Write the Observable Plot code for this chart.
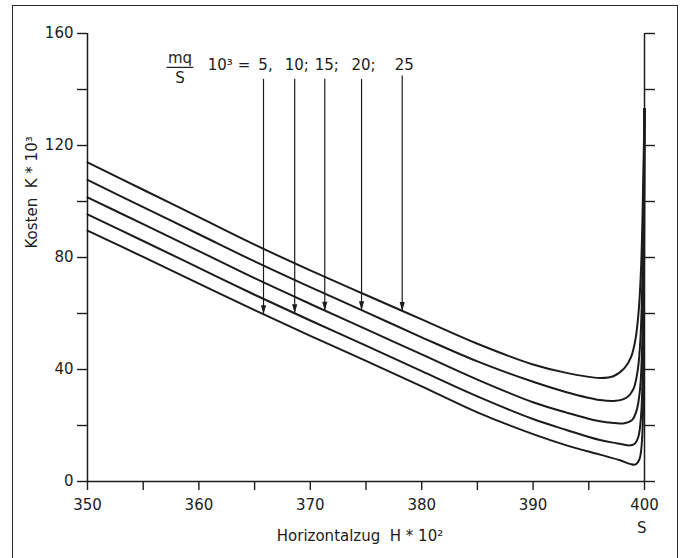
<!DOCTYPE html>
<html><head><meta charset="utf-8">
<script src="https://cdn.jsdelivr.net/npm/d3@7"></script>
<script src="https://cdn.jsdelivr.net/npm/@observablehq/plot@0.6"></script>
<style>
body{margin:0;background:#fff;}
#wrap{position:relative;width:686px;height:558px;overflow:hidden;font-family:"DejaVu Sans",sans-serif;}
#wrap svg{position:absolute;left:0;top:0;}
#frame{position:absolute;left:12px;top:5px;width:664px;height:600px;border:1.5px solid #2a2a2a;pointer-events:none;}
</style></head><body><div id="wrap"><div id="frame"></div></div>
<script>
// Horizontalzug H*10^2 (common grid) and Kosten K*10^3 per curve (mq/S*10^3)
const hGrid = [350, 355, 360, 365, 370, 375, 380, 385, 390, 393, 396];
const k25 = [114.0, 104.2, 94.4, 84.6, 75.4, 66.6, 57.9, 49.2, 41.8, 38.8, 37.0];
const k20 = [107.7, 98.0, 88.3, 78.6, 69.4, 60.5, 51.5, 42.9, 35.6, 31.9, 29.1];
const k15 = [101.5, 91.9, 82.3, 72.6, 63.4, 54.4, 45.4, 36.4, 28.3, 24.6, 21.5];
const k10 = [95.4, 85.9, 76.3, 66.7, 57.5, 48.5, 39.4, 30.4, 22.3, 18.4, 14.8];
const k5  = [89.6, 80.2, 70.7, 61.2, 52.0, 43.1, 34.0, 24.7, 16.9, 12.9, 9.6];
// steep part close to H = S
const tailH25 = [397.2, 398.2, 398.8, 399.2, 399.5, 399.7, 399.85, 400];
const tailK25 = [37.6, 40.5, 44.5, 51.0, 62.0, 77.0, 100.0, 133.0];
const tailH20 = [397.4, 398.4, 399.0, 399.4, 399.65, 399.82, 400];
const tailK20 = [28.8, 30.0, 33.0, 40.0, 52.0, 75.0, 133.0];
const tailH15 = [397.3, 398.2, 398.9, 399.3, 399.6, 399.8, 400];
const tailK15 = [20.9, 20.8, 22.0, 25.5, 33.0, 50.0, 133.0];
const tailH10 = [397.6, 398.6, 399.1, 399.45, 399.7, 399.88, 400];
const tailK10 = [13.6, 12.9, 13.4, 16.0, 24.0, 50.0, 133.0];
const tailH5  = [397.8, 398.7, 399.2, 399.55, 399.78, 399.92, 400];
const tailK5  = [7.6, 6.3, 6.1, 8.0, 15.0, 45.0, 133.0];

const seriesNames = [25, 20, 15, 10, 5];
// arrows marking each curve
const arrowH = [365.8, 368.6, 371.3, 374.6, 378.25];
const arrowTop = [143.8, 143.8, 143.8, 143.8, 145.0];
const arrowTip = [59.7, 60.1, 61.0, 61.2, 60.9];
const arrowLabels = ["5,", "10;", "15;", "20;", "25"];

const xTicks = d3.range(350, 401, 5);
const yTicks = d3.range(0, 161, 20);

const kArrs = [k25, k20, k15, k10, k5];
const tailHs = [tailH25, tailH20, tailH15, tailH10, tailH5];
const tailKs = [tailK25, tailK20, tailK15, tailK10, tailK5];
const rows = [];
seriesNames.forEach((s, j) => {
  hGrid.forEach((h, i) => rows.push({h, k: kArrs[j][i], s}));
  tailHs[j].forEach((h, i) => rows.push({h, k: tailKs[j][i], s}));
});
const arrows = arrowH.map((h, i) => ({h, top: arrowTop[i], tip: arrowTip[i], label: arrowLabels[i]}));

const ink = "#1c1c1c";
const headSymbol = {draw(ctx) { ctx.moveTo(0, 0); ctx.lineTo(-2.6, -9); ctx.lineTo(2.6, -9); ctx.closePath(); }};

const chart = Plot.plot({
  width: 686, height: 558,
  marginLeft: 87, marginRight: 42, marginTop: 33, marginBottom: 77,
  style: {fontFamily: '"DejaVu Sans", sans-serif', fontSize: "15px", color: ink, background: "transparent"},
  x: {domain: [350, 400]},
  y: {domain: [0, 160]},
  marks: [
    Plot.axisX({ticks: xTicks, tickSize: 9, tickPadding: 9, tickFormat: d => d % 10 === 0 ? d : "", label: null, strokeWidth: 1.4, fontSize: 15}),
    Plot.axisY({ticks: yTicks, tickSize: 10, tickPadding: 4, tickFormat: d => d % 40 === 0 ? d : "", label: null, strokeWidth: 1.4, fontSize: 15}),
    Plot.axisY({anchor: "right", ticks: yTicks, tickSize: 10, tickFormat: () => "", label: null, strokeWidth: 1.4}),
    Plot.ruleX([350], {y1: 0, y2: 160, stroke: ink, strokeWidth: 1.5}),
    Plot.ruleX([400], {y1: 0, y2: 160, stroke: ink, strokeWidth: 1.5}),
    Plot.ruleY([0], {x1: 350, x2: 400, stroke: ink, strokeWidth: 1.5}),
    Plot.line(rows, {x: "h", y: "k", z: "s", curve: "catmull-rom", stroke: ink, strokeWidth: 2}),
    Plot.link(arrows, {x1: "h", x2: "h", y1: "top", y2: "tip", stroke: ink, strokeWidth: 1.2}),
    Plot.dot(arrows, {x: "h", y: "tip", symbol: headSymbol, fill: ink, stroke: "none"}),
    Plot.text(arrows, {x: "h", y: 148.6, text: "label", dx: 2, fontSize: 15, fill: ink}),
    Plot.text(["mq"], {x: 358.3, y: 151.3, fontSize: 15, fill: ink}),
    Plot.link([0], {x1: 357.1, x2: 359.5, y1: 147.9, y2: 147.9, stroke: ink, strokeWidth: 1.2}),
    Plot.text(["S"], {x: 358.3, y: 144.2, fontSize: 15, fill: ink}),
    Plot.text(["10³ ="], {x: 362.7, y: 148.6, fontSize: 15, fill: ink}),
    Plot.text(["Kosten  K * 10³"], {frameAnchor: "left", dx: -55, dy: -9, rotate: -90, fontSize: 15, fill: ink}),
    Plot.text(["Horizontalzug  H * 10²"], {frameAnchor: "bottom", dx: -6, dy: 59, fontSize: 15, fill: ink}),
    Plot.text(["S"], {frameAnchor: "bottom-right", dx: 2, dy: 51, fontSize: 15, fill: ink})
  ]
});
document.getElementById("wrap").prepend(chart);
</script>
</body></html>
